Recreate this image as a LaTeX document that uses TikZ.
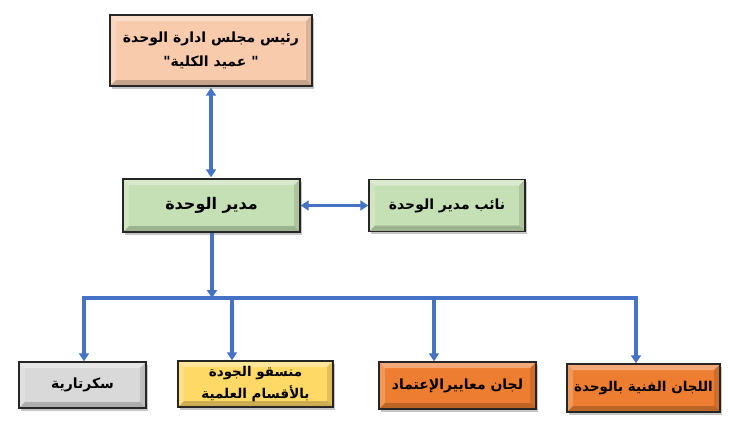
\documentclass[tikz,border=0pt]{standalone}
\usepackage{fontspec}
\newfontfamily\arabicfont[Script=Arabic]{DejaVu Sans}
\TeXXeTstate=1
\usetikzlibrary{arrows.meta,shadows}
\definecolor{peach}{HTML}{F8CBAD}
\definecolor{lgreen}{HTML}{C5E0B4}
\definecolor{lgray}{HTML}{D9D9D9}
\definecolor{gold}{HTML}{FFD966}
\definecolor{orng}{HTML}{ED7D31}
\definecolor{lnblue}{HTML}{4472C4}
\tikzset{
  bevel/.style={
    path picture={
      \fill[white,opacity=0.35] (path picture bounding box.north west) -- (path picture bounding box.north east) -- ([xshift=-6pt,yshift=-6pt]path picture bounding box.north east) -- ([xshift=6pt,yshift=-6pt]path picture bounding box.north west) -- cycle;
      \fill[white,opacity=0.2] (path picture bounding box.north west) -- (path picture bounding box.south west) -- ([xshift=6pt,yshift=6pt]path picture bounding box.south west) -- ([xshift=6pt,yshift=-6pt]path picture bounding box.north west) -- cycle;
      \fill[black,opacity=0.2] (path picture bounding box.south west) -- (path picture bounding box.south east) -- ([xshift=-6pt,yshift=6pt]path picture bounding box.south east) -- ([xshift=6pt,yshift=6pt]path picture bounding box.south west) -- cycle;
      \fill[black,opacity=0.12] (path picture bounding box.north east) -- (path picture bounding box.south east) -- ([xshift=-6pt,yshift=6pt]path picture bounding box.south east) -- ([xshift=-6pt,yshift=-6pt]path picture bounding box.north east) -- cycle;
    }},
  box/.style={draw=black!85, line width=1.4pt, bevel, inner sep=2pt,
    drop shadow={opacity=0.45, shadow xshift=2pt, shadow yshift=-2.5pt},
    font=\arabicfont\bfseries\fontsize{14}{24}\selectfont, align=center},
  >={Triangle[length=8pt,width=10pt]},
  conn/.style={draw=lnblue, line width=3.2pt, ->},
  biconn/.style={draw=lnblue, line width=3.2pt, <->},
  plain/.style={draw=lnblue, line width=3.2pt}
}
\begin{document}
\begin{tikzpicture}[x=1pt,y=-1pt]
\useasboundingbox (0,0) rectangle (748,423);
\node[box, fill=peach, minimum width=202pt, minimum height=71pt] (top) at (211,50.5)
  {\beginR رئيس مجلس ادارة الوحدة\endR\\\beginR " عميد الكلية"\endR};
\node[box, fill=lgreen, minimum width=177pt, minimum height=53pt, font=\arabicfont\bfseries\fontsize{16}{20}\selectfont] (mid) at (211.5,205.5)
  {\beginR مدير الوحدة\endR};
\node[box, fill=lgreen, minimum width=156pt, minimum height=52pt] (dep) at (447,205.5)
  {\beginR نائب مدير الوحدة\endR};
\node[box, fill=lgray, minimum width=127pt, minimum height=46pt] (sek) at (82.5,385)
  {\beginR سكرتارية\endR};
\node[box, fill=gold, minimum width=155pt, minimum height=46pt, font=\arabicfont\bfseries\fontsize{13.5}{22}\selectfont] (qual) at (255.5,384)
  {\beginR منسقو الجودة\endR\\\beginR بالأقسام العلمية\endR};
\node[box, fill=orng, minimum width=157pt, minimum height=47pt] (acc) at (457.5,385.5)
  {\beginR لجان معاييرالإعتماد\endR};
\node[box, fill=orng, minimum width=153pt, minimum height=48pt, font=\arabicfont\bfseries\fontsize{13.5}{20}\selectfont] (tech) at (643.5,388)
  {\beginR اللجان الفنية بالوحدة\endR};

\coordinate (bm) at (212,298);
\coordinate (b1) at (84,298);
\coordinate (b2) at (232,298);
\coordinate (b3) at (434,298);
\coordinate (b4) at (636,298);

\draw[biconn] ([yshift=-1pt]top.south) -- ([yshift=1pt]top.south |- mid.north);
\draw[biconn] (mid.east) -- (mid.east -| dep.west);
\draw[conn] (mid.south -| bm) -- (bm);
\draw[plain, line join=miter] ([yshift=-3pt]b1) -- (b1) -- (b4) -- ([yshift=-3pt]b4);
\draw[conn] (b1) -- (b1 |- sek.north);
\draw[conn] (b2) -- (b2 |- qual.north);
\draw[conn] (b3) -- (b3 |- acc.north);
\draw[conn] (b4) -- (b4 |- tech.north);
\end{tikzpicture}
\end{document}
